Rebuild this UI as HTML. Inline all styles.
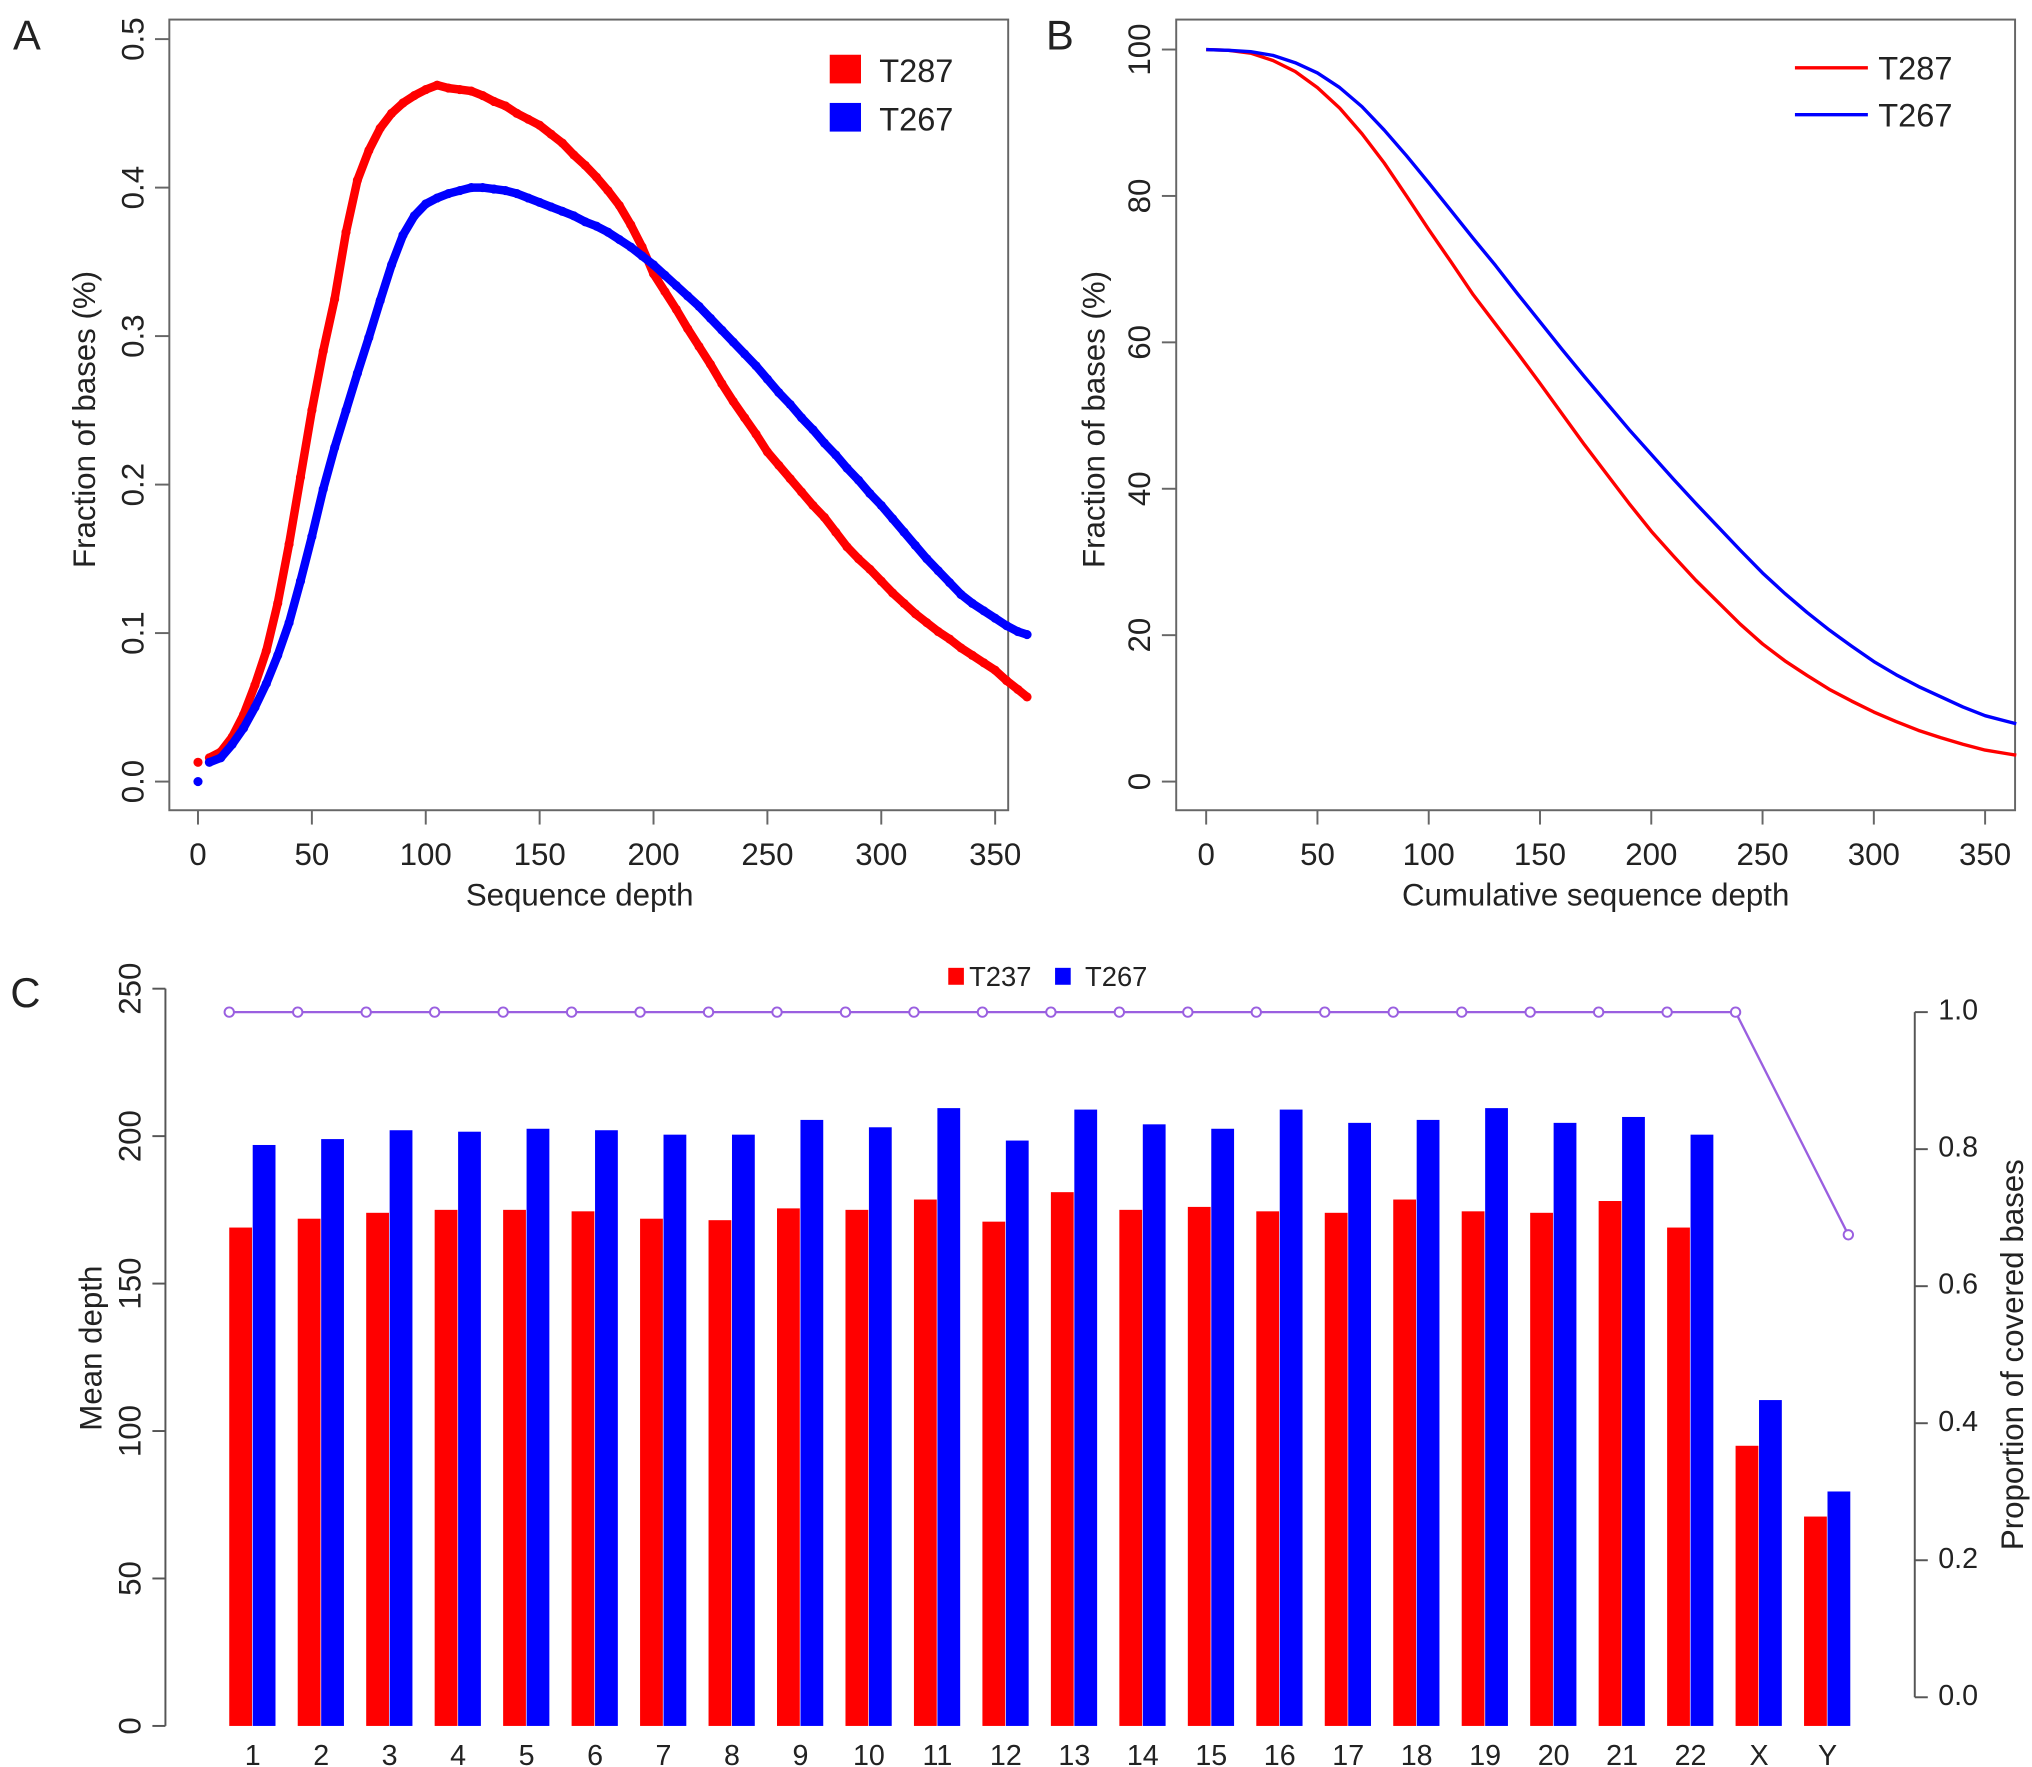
<!DOCTYPE html>
<html><head><meta charset="utf-8"><style>
html,body{margin:0;padding:0;background:#fff}
svg{display:block}
text{font-family:"Liberation Sans",Arial,sans-serif;fill:#222}
</style></head><body>
<svg id="root" width="2032" height="1767" viewBox="0 0 1560 1356.5" xmlns="http://www.w3.org/2000/svg">
<g id="pa"></g>
<g id="pb"></g>
<g id="pc"></g>
</svg>
<script>
// ---- Panel A data (depth step 5) ----
const aDepth = [0,5,10,15,20,25,30,35,40,45,50,55,60,65,70,75,80,85,90,95,100,105,110,115,120,125,130,135,140,145,150,155,160,165,170,175,180,185,190,195,200,205,210,215,220,225,230,235,240,245,250,255,260,265,270,275,280,285,290,295,300,305,310,315,320,325,330,335,340,345,350,355,360,364];
const aRed = [0.013,0.016,0.02,0.03,0.045,0.065,0.088,0.12,0.16,0.205,0.25,0.29,0.325,0.37,0.405,0.425,0.44,0.45,0.457,0.462,0.466,0.469,0.467,0.466,0.465,0.462,0.458,0.455,0.45,0.446,0.442,0.436,0.43,0.422,0.415,0.407,0.398,0.388,0.375,0.36,0.342,0.33,0.318,0.305,0.293,0.281,0.268,0.256,0.245,0.234,0.222,0.213,0.204,0.195,0.186,0.178,0.168,0.158,0.15,0.143,0.135,0.127,0.12,0.113,0.107,0.101,0.096,0.09,0.085,0.08,0.075,0.068,0.062,0.057];
const aBlue = [0.0,0.013,0.016,0.025,0.036,0.05,0.066,0.085,0.107,0.135,0.165,0.197,0.225,0.25,0.275,0.299,0.324,0.348,0.368,0.381,0.389,0.393,0.396,0.398,0.4,0.4,0.399,0.398,0.396,0.393,0.39,0.387,0.384,0.381,0.377,0.374,0.37,0.365,0.36,0.354,0.348,0.341,0.334,0.327,0.32,0.312,0.304,0.296,0.288,0.28,0.271,0.262,0.254,0.245,0.237,0.228,0.22,0.211,0.203,0.194,0.186,0.177,0.168,0.159,0.15,0.142,0.134,0.126,0.12,0.115,0.11,0.105,0.101,0.099];
const aXTicks = [0,50,100,150,200,250,300,350];
const aYTicks = ["0.0","0.1","0.2","0.3","0.4","0.5"];
// ---- Panel B data (depth step 10) ----
const bDepth = [0,10,20,30,40,50,60,70,80,90,100,110,120,130,140,150,160,170,180,190,200,210,220,230,240,250,260,270,280,290,300,310,320,330,340,350,360,364];
const bRed = [100,99.9,99.5,98.5,97,94.8,92,88.5,84.5,80,75.4,71,66.5,62.5,58.5,54.4,50.2,46,42,38,34.2,30.8,27.5,24.5,21.5,18.8,16.5,14.5,12.6,11,9.5,8.2,7,6,5.1,4.3,3.8,3.6];
const bBlue = [100,99.9,99.7,99.2,98.2,96.8,94.8,92.2,89,85.5,81.8,78,74.2,70.5,66.6,62.8,59,55.3,51.7,48.1,44.7,41.3,38,34.8,31.6,28.5,25.7,23.1,20.7,18.5,16.4,14.6,13,11.6,10.2,9,8.2,7.9];
const bYTicks = [0,20,40,60,80,100];
// ---- Panel C data ----
const cCats = ["1","2","3","4","5","6","7","8","9","10","11","12","13","14","15","16","17","18","19","20","21","22","X","Y"];
const cRed = [169,172,174,175,175,174.5,172,171.5,175.5,175,178.5,171,181,175,176,174.5,174,178.5,174.5,174,178,169,95,71];
const cBlue = [197,199,202,201.5,202.5,202,200.5,200.5,205.5,203,209.5,198.5,209,204,202.5,209,204.5,205.5,209.5,204.5,206.5,200.5,110.5,79.5];
const cProp = [1,1,1,1,1,1,1,1,1,1,1,1,1,1,1,1,1,1,1,1,1,1,1,0.675];
const cLeftTicks = [0,50,100,150,200,250];
const cRightTicks = ["0.0","0.2","0.4","0.6","0.8","1.0"];

const NS="http://www.w3.org/2000/svg";
function mk(parent,tag,attrs,txt){const e=document.createElementNS(NS,tag);for(const k in attrs)e.setAttribute(k,attrs[k]);if(txt!==undefined)e.textContent=txt;parent.appendChild(e);return e;}

// ===== Panel A =====
const pa=document.getElementById('pa');
const axA=d=>152+d*(612/350), ayA=v=>600-v*(570/0.5);
let e;
e=mk(pa,'rect',{x:130,y:15,width:644,height:607,fill:'none',stroke:'#666','stroke-width':1.5});

aXTicks.forEach(t=>{mk(pa,'line',{x1:axA(t),x2:axA(t),y1:622,y2:633,stroke:'#666','stroke-width':1.5});
 e=mk(pa,'text',{x:axA(t),y:664,'font-size':24,'text-anchor':'middle'},String(t));
 });
aYTicks.forEach(t=>{const y=ayA(parseFloat(t));mk(pa,'line',{x1:119,x2:130,y1:y,y2:y,stroke:'#666','stroke-width':1.5});
 e=mk(pa,'text',{x:110,y:y,'font-size':24,'text-anchor':'middle',transform:`rotate(-90 110 ${y})`},t);
 });
e=mk(pa,'text',{x:445,y:695,'font-size':24,'text-anchor':'middle'},'Sequence depth');

e=mk(pa,'text',{x:73,y:322,'font-size':24,'text-anchor':'middle',transform:'rotate(-90 73 322)'},'Fraction of bases (%)');

e=mk(pa,'text',{x:10,y:38,'font-size':32},'A');

[[aRed,'#f00','series-t287-a'],[aBlue,'#00f','series-t267-a']].forEach(([arr,c,n])=>{
 const g=mk(pa,'g',{});
 const pts=aDepth.slice(1).map((d,i)=>axA(d)+','+ayA(arr[i+1])).join(' ');
 mk(g,'polyline',{points:pts,fill:'none',stroke:c,'stroke-width':6.5,'stroke-linejoin':'round'});
 aDepth.forEach((d,i)=>{const p=mk(g,'circle',{cx:axA(d),cy:ayA(arr[i]),r:3.5,fill:c});
  });
});
e=mk(pa,'rect',{x:637,y:42,width:24,height:22,fill:'#f00'});
e=mk(pa,'text',{x:675,y:63,'font-size':25},'T287');
e=mk(pa,'rect',{x:637,y:79,width:24,height:22,fill:'#00f'});
e=mk(pa,'text',{x:675,y:100,'font-size':25},'T267');

// ===== Panel B =====
const pb=document.getElementById('pb');
const axB=d=>926+d*(598/350), ayB=v=>600-v*(562/100);
e=mk(pb,'rect',{x:903,y:15,width:644,height:607,fill:'none',stroke:'#666','stroke-width':1.5});

aXTicks.forEach(t=>{mk(pb,'line',{x1:axB(t),x2:axB(t),y1:622,y2:633,stroke:'#666','stroke-width':1.5});
 e=mk(pb,'text',{x:axB(t),y:664,'font-size':24,'text-anchor':'middle'},String(t));
 });
bYTicks.forEach(t=>{const y=ayB(t);mk(pb,'line',{x1:892,x2:903,y1:y,y2:y,stroke:'#666','stroke-width':1.5});
 e=mk(pb,'text',{x:883,y:y,'font-size':24,'text-anchor':'middle',transform:`rotate(-90 883 ${y})`},String(t));
 });
e=mk(pb,'text',{x:1225,y:695,'font-size':24,'text-anchor':'middle'},'Cumulative sequence depth');

e=mk(pb,'text',{x:848,y:322,'font-size':24,'text-anchor':'middle',transform:'rotate(-90 848 322)'},'Fraction of bases (%)');

e=mk(pb,'text',{x:803,y:38,'font-size':32},'B');

[[bRed,'#f00','line-t287-b'],[bBlue,'#00f','line-t267-b']].forEach(([arr,c,n])=>{
 const p=mk(pb,'polyline',{points:bDepth.map((d,i)=>axB(d)+','+ayB(arr[i])).join(' '),fill:'none',stroke:c,'stroke-width':2.6,'stroke-linejoin':'round'});
 });
mk(pb,'line',{x1:1378,x2:1434,y1:52,y2:52,stroke:'#f00','stroke-width':2.6});
e=mk(pb,'text',{x:1442,y:61,'font-size':25},'T287');
mk(pb,'line',{x1:1378,x2:1434,y1:88,y2:88,stroke:'#00f','stroke-width':2.6});
e=mk(pb,'text',{x:1442,y:97,'font-size':25},'T267');

// ===== Panel C =====
const pc=document.getElementById('pc');
const xc=i=>194+i*(1403-194)/23, ylC=v=>1325-v*(566/250), yrC=v=>1303-v*526;
mk(pc,'line',{x1:127,x2:127,y1:ylC(0),y2:ylC(250),stroke:'#555','stroke-width':1.5});
cLeftTicks.forEach(t=>{const y=ylC(t);mk(pc,'line',{x1:117,x2:127,y1:y,y2:y,stroke:'#555','stroke-width':1.5});
 e=mk(pc,'text',{x:108,y:y,'font-size':24,'text-anchor':'middle',transform:`rotate(-90 108 ${y})`},String(t));
 });
mk(pc,'line',{x1:1470,x2:1470,y1:yrC(0),y2:yrC(1),stroke:'#555','stroke-width':1.5});
cRightTicks.forEach(t=>{const y=yrC(parseFloat(t));mk(pc,'line',{x1:1470,x2:1480,y1:y,y2:y,stroke:'#555','stroke-width':1.5});
 e=mk(pc,'text',{x:1488,y:y,'font-size':22,'dominant-baseline':'middle'},t);
 });
cCats.forEach((c,i)=>{
 e=mk(pc,'rect',{x:xc(i)-18,y:ylC(cRed[i]),width:17.5,height:ylC(0)-ylC(cRed[i]),fill:'#f00'});
 
 e=mk(pc,'rect',{x:xc(i),y:ylC(cBlue[i]),width:17.5,height:ylC(0)-ylC(cBlue[i]),fill:'#00f'});
 
 e=mk(pc,'text',{x:xc(i),y:1355,'font-size':22,'text-anchor':'middle'},c);
 
});
const px=i=>xc(i)-18+(i===cCats.length-1?34:0);
e=mk(pc,'polyline',{points:cProp.map((v,i)=>px(i)+','+yrC(v)).join(' '),fill:'none',stroke:'#9a5fe0','stroke-width':1.8});

cProp.forEach((v,i)=>{const p=mk(pc,'circle',{cx:px(i),cy:yrC(v),r:3.6,fill:'#fff',stroke:'#9a5fe0','stroke-width':1.5});
 });
e=mk(pc,'text',{x:78,y:1035,'font-size':24,'text-anchor':'middle',transform:'rotate(-90 78 1035)'},'Mean depth');

e=mk(pc,'text',{x:1553,y:1040,'font-size':24,'text-anchor':'middle',transform:'rotate(-90 1553 1040)'},'Proportion of covered bases');

e=mk(pc,'text',{x:8,y:773,'font-size':32},'C');

e=mk(pc,'rect',{x:728,y:743,width:12,height:13,fill:'#f00'});
e=mk(pc,'text',{x:744,y:757,'font-size':21},'T237');
e=mk(pc,'rect',{x:810,y:743,width:12,height:13,fill:'#00f'});
e=mk(pc,'text',{x:833,y:757,'font-size':21},'T267');
</script>
</body></html>
